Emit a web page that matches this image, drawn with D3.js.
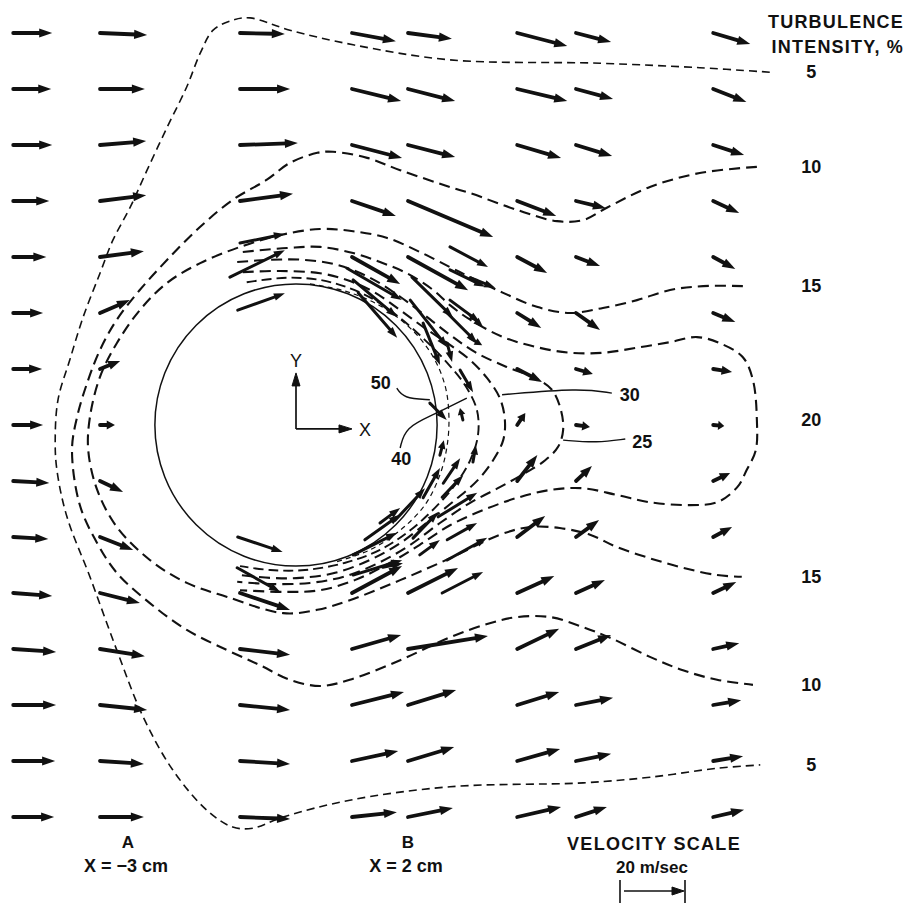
<!DOCTYPE html>
<html>
<head>
<meta charset="utf-8">
<script src="https://cdn.jsdelivr.net/npm/d3@7"></script>
<style>
  html, body { margin: 0; padding: 0; background: #fff; }
  svg { display: block; }
  text { font-family: "Liberation Sans", Arial, Helvetica, sans-serif; fill: #111; }
</style>
</head>
<body>
<svg id="chart" width="909" height="906"></svg>
<script>
// Measurement grid (cm) -- one arrow per station, velocity in m/s
const rowY = [7, 6, 5, 4, 3, 2, 1, 0, -1, -2, -3, -4, -5, -6, -7];
const columnX = [-5.05, -3.5, -1.0, 1.0, 2.0, 3.95, 5.0, 7.45];

// horizontal velocity u per column (null = no arrow at that station)
const uGrid = [
  [12.0, 11.7, 12.0, 11.1, 10.2, 9.2, 8.9, 9.2, 11.1, 10.8, 12.0, 13.2, 13.2, 12.9, 12.6],
  [14.5, 13.8, 14.2, 14.2, 13.5, 9.2, 6.2, 4.6, 7.1, 10.2, 12.3, 13.8, 14.5, 13.5, 13.5],
  [13.8, 15.4, 17.8, 16.3, null, null, null, null, null, null, 15.4, 15.4, 15.4, 15.4, 15.4],
  [13.5, 15.1, 15.4, 13.5, 14.8, null, null, null, null, null, 15.4, 15.1, 16.0, 14.2, 13.8],
  [13.5, 14.5, 14.5, 26.2, 18.5, null, null, null, null, null, 15.4, 24.6, 14.8, 14.2, 13.8],
  [15.4, 15.4, 13.5, 12.0, 9.2, 7.4, 7.7, 2.5, 6.2, 8.6, 11.4, 12.9, 12.9, 13.2, 13.5],
  [10.8, 11.4, 11.1, 9.2, 7.4, 7.4, 5.2, 4.3, 4.9, 7.1, 8.9, 10.8, 11.4, 10.8, 9.5],
  [11.4, 10.2, 9.5, 8.0, 6.8, 6.8, 5.8, 3.4, 5.2, 5.8, 7.1, 8.0, 8.6, 9.2, 9.5]
];
// vertical velocity v per column
const vGrid = [
  [0, 0, 0, 0, 0, 0, 0, 0, -0.6, -0.6, -0.9, -0.9, 0, 0, 0],
  [-0.6, 0, 1.2, 1.8, 1.8, 4.0, 2.5, 0, -3.4, -4.0, -3.1, -2.2, -1.5, -0.9, 0],
  [-0.3, 0, 0.6, 2.2, null, null, null, null, null, null, -5.2, -1.8, -1.5, -0.9, -0.6],
  [-2.5, -3.7, -4.0, -4.6, -8.3, null, null, null, null, null, 8.3, 4.3, 4.0, 3.1, 1.5],
  [-1.8, -3.7, -3.7, -11.1, -10.2, null, null, null, null, null, 7.7, 4.0, 4.6, 4.3, 2.8],
  [-4.0, -3.7, -4.0, -4.6, -4.9, -4.6, -4.0, 3.7, 8.0, 6.5, 5.2, 6.2, 4.0, 3.7, 3.1],
  [-2.8, -3.1, -3.4, -2.2, -2.8, -5.2, -1.5, -0.6, 4.6, 5.2, 4.0, 4.3, 2.2, 2.2, 3.1],
  [-3.4, -4.0, -3.1, -3.7, -3.7, -2.8, -0.9, -0.3, 2.5, 3.1, 3.4, 1.8, 1.5, 1.5, 2.2]
];

// extra stations close to the cylinder: [x cm, y cm, u m/s, v m/s]
const nearWallArrows = [
  [-1.0, 3.25, 13.8, 2.8], [-1.18, 2.64, 16.9, 8.3], [-1.04, 2.05, 14.5, 5.2],
  [0.91, 2.8, 16.9, -9.8], [1.02, 2.59, 13.5, -11.4], [1.11, 2.36, 12.0, -13.8],
  [2.75, 3.18, 11.7, -6.2], [2.07, 2.64, 12.6, -12.3], [2.75, 2.77, 10.8, -5.2],
  [2.75, 2.23, 9.2, -6.8], [3.11, 2.63, 7.7, -3.1], [2.04, 2.23, 11.4, -14.5],
  [2.7, 2.0, 9.2, -9.2], [3.11, 1.96, 4.0, -3.7], [3.11, 1.55, 3.7, -2.2],
  [2.7, 1.46, 1.5, -5.8], [2.93, 0.98, 4.0, -6.8], [2.39, 0.39, 5.2, -5.2],
  [2.98, 0.09, -0.9, 3.7], [2.57, -0.54, 1.2, 4.6], [3.16, -0.66, 0.9, 5.2],
  [2.63, -1.04, 5.2, 7.7], [2.27, -1.3, 5.2, 9.2], [2.61, -1.29, 6.5, 6.8],
  [2.09, -2.02, 7.7, 8.0], [2.54, -1.64, 12.0, 7.4], [2.7, -2.05, 9.2, 5.2],
  [2.21, -2.32, 6.2, 4.6], [2.7, -2.41, 12.3, 6.8], [2.61, -3.0, 12.6, 6.5],
  [1.5, -1.75, 6.2, 4.6], [1.55, -2.54, 6.2, 1.2], [1.02, -2.32, 13.5, 6.8],
  [1.02, -2.68, 15.1, 4.6], [-1.04, -2.0, 13.8, -4.6], [-1.05, -2.55, 13.2, -7.4],
  [1.23, -2.05, 10.8, 7.7], [1.77, -1.7, 9.2, 9.8], [2.27, 1.82, 5.2, -12.9]
];

const cylinderRadius = 2.52; // cm

// turbulence intensity contours, points in cm
const contour5 = [[8.46, 6.30], [7.21, 6.38], [5.43, 6.46], [2.75, 6.52], [1.02, 6.79], [-0.11, 7.05],
  [-0.82, 7.27], [-1.13, 7.23], [-1.48, 7.05], [-1.71, 6.64], [-1.95, 6.04], [-2.30, 5.32], [-2.66, 4.55],
  [-2.96, 3.89], [-3.27, 3.30], [-3.50, 2.71], [-3.80, 1.93], [-4.04, 1.16], [-4.25, 0.45], [-4.30, -0.27],
  [-4.27, -0.80], [-4.09, -1.64], [-3.68, -2.71], [-3.20, -4.02], [-2.73, -5.21], [-2.20, -6.16],
  [-1.59, -6.88], [-1.13, -7.18], [-0.77, -7.20], [-0.23, -7.00], [0.96, -6.70], [2.75, -6.46],
  [5.13, -6.39], [6.32, -6.29], [7.52, -6.13], [8.29, -6.07]];
const contour10 = [[8.23, 4.61], [7.21, 4.50], [6.32, 4.25], [5.55, 3.88], [5.13, 3.66], [4.66, 3.64],
  [3.95, 3.84], [3.11, 4.14], [2.75, 4.25], [1.86, 4.55], [1.27, 4.77], [0.66, 4.88], [0.38, 4.86],
  [-0.11, 4.68], [-0.52, 4.38], [-1.13, 4.02], [-1.71, 3.54], [-2.30, 2.95], [-2.79, 2.41], [-3.20, 1.88],
  [-3.50, 1.34], [-3.73, 0.75], [-3.91, 0.14], [-4.0, -0.45], [-3.86, -1.43], [-3.55, -2.11],
  [-3.20, -2.64], [-2.61, -3.18], [-1.95, -3.66], [-1.23, -4.02], [-0.64, -4.29], [-0.11, -4.55],
  [0.43, -4.66], [0.96, -4.55], [1.86, -4.20], [2.75, -3.79], [3.46, -3.54], [3.95, -3.43], [4.54, -3.43],
  [5.13, -3.61], [5.61, -3.80], [6.32, -4.14], [6.91, -4.38], [7.52, -4.55], [8.16, -4.64]];
const contour15 = [[7.98, 2.48], [7.27, 2.48], [6.68, 2.41], [6.09, 2.23], [5.48, 2.09], [4.89, 2.0],
  [4.30, 2.11], [3.70, 2.36], [3.11, 2.64], [2.75, 2.82], [2.21, 3.09], [1.63, 3.34], [1.02, 3.46],
  [0.43, 3.5], [-0.29, 3.39], [-1.0, 3.18], [-1.71, 2.89], [-2.30, 2.54], [-2.79, 2.05], [-3.20, 1.46],
  [-3.50, 0.86], [-3.68, 0.14], [-3.71, -0.45], [-3.55, -1.16], [-3.20, -1.82], [-2.61, -2.41],
  [-1.95, -2.82], [-1.23, -3.07], [-0.23, -3.36], [0.38, -3.30], [0.96, -3.13], [1.86, -2.77],
  [2.75, -2.38], [3.64, -1.96], [4.18, -1.82], [4.71, -1.84], [5.25, -1.96], [5.73, -2.18], [6.32, -2.38],
  [6.91, -2.55], [7.52, -2.68], [7.96, -2.71]];
const contour20 = [[-0.95, 3.09], [-0.16, 3.16], [0.43, 3.18], [1.02, 3.07], [1.5, 2.91], [1.98, 2.71],
  [2.45, 2.41], [2.75, 2.14], [3.11, 1.88], [3.70, 1.57], [4.30, 1.39], [4.89, 1.29], [5.48, 1.29],
  [6.09, 1.38], [6.68, 1.48], [7.16, 1.57], [7.57, 1.46], [7.98, 1.21], [8.16, 0.80], [8.23, 0.09],
  [8.21, -0.45], [8.05, -0.80], [7.88, -1.11], [7.52, -1.38], [7.04, -1.43], [6.32, -1.38], [5.73, -1.25],
  [5.13, -1.13], [4.54, -1.16], [3.95, -1.30], [3.34, -1.52], [2.75, -1.79], [2.21, -2.14], [1.68, -2.46],
  [1.05, -2.77], [0.43, -2.95], [-0.20, -2.98], [-1.0, -2.95]];
const contour25 = [[-1.05, 2.91], [-0.46, 2.95], [0.13, 2.95], [0.73, 2.86], [1.32, 2.63], [1.86, 2.29],
  [2.30, 1.96], [2.75, 1.61], [3.20, 1.30], [3.73, 1.05], [4.27, 0.84], [4.57, 0.63], [4.73, 0.27],
  [4.77, -0.09], [4.68, -0.39], [4.45, -0.63], [4.09, -0.86], [3.64, -1.11], [3.11, -1.39], [2.57, -1.75],
  [2.04, -2.14], [1.5, -2.45], [0.88, -2.70], [0.25, -2.82], [-0.46, -2.84], [-1.05, -2.80]];
const contour30 = [[-0.95, 2.73], [-0.29, 2.75], [0.43, 2.71], [0.91, 2.59], [1.38, 2.38], [1.86, 2.05],
  [2.30, 1.73], [2.75, 1.43], [3.11, 1.16], [3.41, 0.84], [3.64, 0.48], [3.73, 0.09], [3.70, -0.27],
  [3.52, -0.63], [3.25, -0.98], [2.84, -1.34], [2.39, -1.70], [1.86, -2.11], [1.32, -2.41], [0.70, -2.64],
  [0.07, -2.73], [-0.46, -2.73], [-1.0, -2.68]];
const contour40 = [[-0.88, 2.55], [-0.16, 2.63], [0.43, 2.59], [0.91, 2.46], [1.41, 2.23], [1.86, 1.91],
  [2.30, 1.52], [2.70, 1.11], [3.02, 0.71], [3.23, 0.27], [3.25, -0.18], [3.11, -0.63], [2.84, -1.07],
  [2.48, -1.48], [2.04, -1.88], [1.5, -2.23], [0.88, -2.46], [0.16, -2.59], [-0.46, -2.59], [-1.0, -2.52]];
const contour50 = [[0.25, 2.52], [0.88, 2.39], [1.5, 2.13], [2.04, 1.73], [2.43, 1.25], [2.66, 0.71],
  [2.73, 0.18], [2.70, -0.36], [2.57, -0.89], [2.30, -1.43], [1.86, -1.88], [1.32, -2.23], [0.70, -2.45]];

// leader lines for the inner contour labels (cm)
const leader50 = [[1.80, 0.66], [1.91, 0.48], [2.39, 0.45]];
const leader40 = [[1.86, -0.41], [1.95, -0.04], [2.45, 0.18], [3.05, 0.48]];
const leader30 = [[3.68, 0.54], [5.07, 0.66], [5.64, 0.57]];
const leader25 = [[4.77, -0.27], [5.38, -0.32], [5.88, -0.25]];

// survey stations shown under the plot
const stationNames = ["A", "B"];
const stationX = [-3, 2];

const svg = d3.select("#chart");
const width = +svg.attr("width");

// 56 px per cm, origin at the cylinder centre
const xScale = d3.scaleLinear().domain([-5, 10]).range([16, 856]);
const yScale = d3.scaleLinear().domain([-8, 8]).range([873, -23]);
const vScale = d3.scaleLinear().domain([0, 20]).range([0, 65]); // 20 m/s velocity bar

svg.append("rect").attr("width", width).attr("height", 906).attr("fill", "#fff");

// cylinder
svg.append("circle")
  .attr("cx", xScale(0)).attr("cy", yScale(0))
  .attr("r", xScale(cylinderRadius) - xScale(0))
  .attr("fill", "none").attr("stroke", "#111").attr("stroke-width", 1.5);

// contours
const contours = [
  { level: 5, pts: contour5, ends: true, width: 1.6, dash: "8,5" },
  { level: 10, pts: contour10, ends: true, width: 2.1, dash: "11,6" },
  { level: 15, pts: contour15, ends: true, width: 2.1, dash: "11,6" },
  { level: 20, pts: contour20, ends: false, width: 2.1, dash: "11,6" },
  { level: 25, pts: contour25, ends: false, width: 2.1, dash: "11,6" },
  { level: 30, pts: contour30, ends: false, width: 2.1, dash: "11,6" },
  { level: 40, pts: contour40, ends: false, width: 1.9, dash: "10,5" },
  { level: 50, pts: contour50, ends: false, width: 1.2, dash: "5,4" }
];
const line = d3.line()
  .x(d => xScale(d[0]))
  .y(d => yScale(d[1]))
  .curve(d3.curveCatmullRom.alpha(0.5));

svg.append("g").selectAll("path")
  .data(contours)
  .join("path")
  .attr("d", d => line(d.pts))
  .attr("fill", "none")
  .attr("stroke", "#111")
  .attr("stroke-width", d => d.width)
  .attr("stroke-dasharray", d => d.dash);

// right-hand contour values, at the loose ends of the outer contours
const labelX = xScale(9.2);
const edgeLabels = [];
contours.forEach(c => {
  if (c.ends) {
    edgeLabels.push({ text: c.level, y: c.pts[0][1] });
    edgeLabels.push({ text: c.level, y: c.pts[c.pts.length - 1][1] });
  } else if (c.level === 20) {
    const right = c.pts.reduce((a, b) => (b[0] > a[0] ? b : a));
    edgeLabels.push({ text: c.level, y: right[1] });
  }
});
svg.append("g").selectAll("text")
  .data(edgeLabels)
  .join("text")
  .attr("x", labelX)
  .attr("y", d => yScale(d.y) + 6)
  .attr("text-anchor", "middle")
  .attr("font-size", 18)
  .attr("font-weight", "bold")
  .text(d => d.text);

// leaders for inner contours
const leaders = [
  { text: "50", pts: leader50, end: 0, anchor: "end", dx: -6, dy: 1 },
  { text: "40", pts: leader40, end: 0, anchor: "middle", dx: 1, dy: 17 },
  { text: "30", pts: leader30, end: 1, anchor: "start", dx: 8, dy: 8 },
  { text: "25", pts: leader25, end: 1, anchor: "start", dx: 7, dy: 9 }
];
const leaderLine = d3.line().x(d => xScale(d[0])).y(d => yScale(d[1])).curve(d3.curveBasis);
const lg = svg.append("g");
lg.selectAll("path")
  .data(leaders)
  .join("path")
  .attr("d", d => leaderLine(d.pts))
  .attr("fill", "none")
  .attr("stroke", "#111")
  .attr("stroke-width", 1.4);
lg.selectAll("text")
  .data(leaders)
  .join("text")
  .attr("x", d => xScale(d.end ? d.pts[d.pts.length - 1][0] : d.pts[0][0]) + d.dx)
  .attr("y", d => yScale(d.end ? d.pts[d.pts.length - 1][1] : d.pts[0][1]) + d.dy)
  .attr("text-anchor", d => d.anchor)
  .attr("font-size", 18)
  .attr("font-weight", "bold")
  .text(d => d.text);

// velocity arrows
const arrows = [];
columnX.forEach((cx, ci) => {
  rowY.forEach((ry, ri) => {
    const u = uGrid[ci][ri];
    if (u === null) return;
    arrows.push({ x: cx, y: ry, u: u, v: vGrid[ci][ri], near: false });
  });
});
nearWallArrows.forEach(([x, y, u, v]) => arrows.push({ x, y, u, v, near: true }));

function arrowGeom(d) {
  const x0 = xScale(d.x), y0 = yScale(d.y);
  const dx = vScale(d.u), dy = -vScale(d.v);
  const len = Math.hypot(dx, dy);
  const ux = dx / len, uy = dy / len;
  const hl = Math.min(d.near ? 11 : 13, len * 0.55);
  const hw = d.near ? 3.8 : 4.6;
  const x1 = x0 + dx, y1 = y0 + dy;
  const bx = x1 - ux * hl, by = y1 - uy * hl;
  return { x0, y0, x1, y1, bx, by, ux, uy, hw };
}

const ag = svg.append("g").selectAll("g")
  .data(arrows)
  .join("g");
ag.append("line")
  .attr("x1", d => arrowGeom(d).x0)
  .attr("y1", d => arrowGeom(d).y0)
  .attr("x2", d => { const g = arrowGeom(d); return g.bx + g.ux * 2; })
  .attr("y2", d => { const g = arrowGeom(d); return g.by + g.uy * 2; })
  .attr("stroke", "#111")
  .attr("stroke-width", d => d.near ? 3.0 : 3.8)
  .attr("stroke-linecap", "round");
ag.append("path")
  .attr("d", d => {
    const g = arrowGeom(d);
    return `M${g.x1},${g.y1}L${g.bx - g.uy * g.hw},${g.by + g.ux * g.hw}L${g.bx + g.uy * g.hw},${g.by - g.ux * g.hw}Z`;
  })
  .attr("fill", "#111");

// coordinate axes at the cylinder centre
const axisG = svg.append("g").attr("stroke", "#111").attr("fill", "#111");
const ox = xScale(0), oy = yScale(-0.07), unit = xScale(1) - xScale(0);
axisG.append("line").attr("x1", ox).attr("y1", oy).attr("x2", ox).attr("y2", oy - unit + 10).attr("stroke-width", 1.7);
axisG.append("path").attr("d", `M${ox},${oy - unit}L${ox - 4},${oy - unit + 13}L${ox + 4},${oy - unit + 13}Z`);
axisG.append("line").attr("x1", ox).attr("y1", oy).attr("x2", ox + unit - 10).attr("y2", oy).attr("stroke-width", 1.7);
axisG.append("path").attr("d", `M${ox + unit},${oy}L${ox + unit - 13},${oy - 4}L${ox + unit - 13},${oy + 4}Z`);
svg.append("text").attr("x", ox).attr("y", oy - unit - 6).attr("text-anchor", "middle")
  .attr("font-size", 18).text("Y");
svg.append("text").attr("x", ox + unit + 7).attr("y", oy + 7)
  .attr("font-size", 18).text("X");

// station labels
const st = svg.append("g").selectAll("g")
  .data(stationNames.map((n, i) => ({ name: n, x: stationX[i] })))
  .join("g");
st.append("text")
  .attr("x", d => xScale(d.x))
  .attr("y", 848)
  .attr("text-anchor", "middle")
  .attr("font-size", 17)
  .attr("font-weight", "bold")
  .text(d => d.name);
st.append("text")
  .attr("x", d => xScale(d.x) - 2)
  .attr("y", 872)
  .attr("text-anchor", "middle")
  .attr("font-size", 18)
  .attr("font-weight", "bold")
  .text(d => `X = ${d.x < 0 ? "\u2212" + Math.abs(d.x) : d.x} cm`);

// title for contour values
svg.append("text").attr("x", 904).attr("y", 28).attr("text-anchor", "end")
  .attr("font-size", 18).attr("font-weight", "bold").attr("letter-spacing", 1.2)
  .text("TURBULENCE");
svg.append("text").attr("x", 904).attr("y", 53).attr("text-anchor", "end")
  .attr("font-size", 18).attr("font-weight", "bold").attr("letter-spacing", 1.2)
  .text("INTENSITY, %");

// velocity scale
svg.append("text").attr("x", 654).attr("y", 850).attr("text-anchor", "middle")
  .attr("font-size", 18).attr("font-weight", "bold").attr("letter-spacing", 1.3)
  .text("VELOCITY SCALE");
svg.append("text").attr("x", 652).attr("y", 873).attr("text-anchor", "middle")
  .attr("font-size", 17).attr("font-weight", "bold")
  .text("20 m/sec");
const bar = svg.append("g").attr("transform", "translate(620,891)").attr("stroke", "#111").attr("fill", "#111");
const barLen = vScale(20);
bar.append("line").attr("x1", 0).attr("y1", -11).attr("x2", 0).attr("y2", 12).attr("stroke-width", 1.6);
bar.append("line").attr("x1", barLen).attr("y1", -11).attr("x2", barLen).attr("y2", 12).attr("stroke-width", 1.6);
bar.append("line").attr("x1", 4).attr("y1", 0).attr("x2", barLen - 10).attr("y2", 0).attr("stroke-width", 1.6);
bar.append("path").attr("d", `M${barLen - 1},0L${barLen - 13},-4L${barLen - 13},4Z`);
</script>
</body>
</html>
